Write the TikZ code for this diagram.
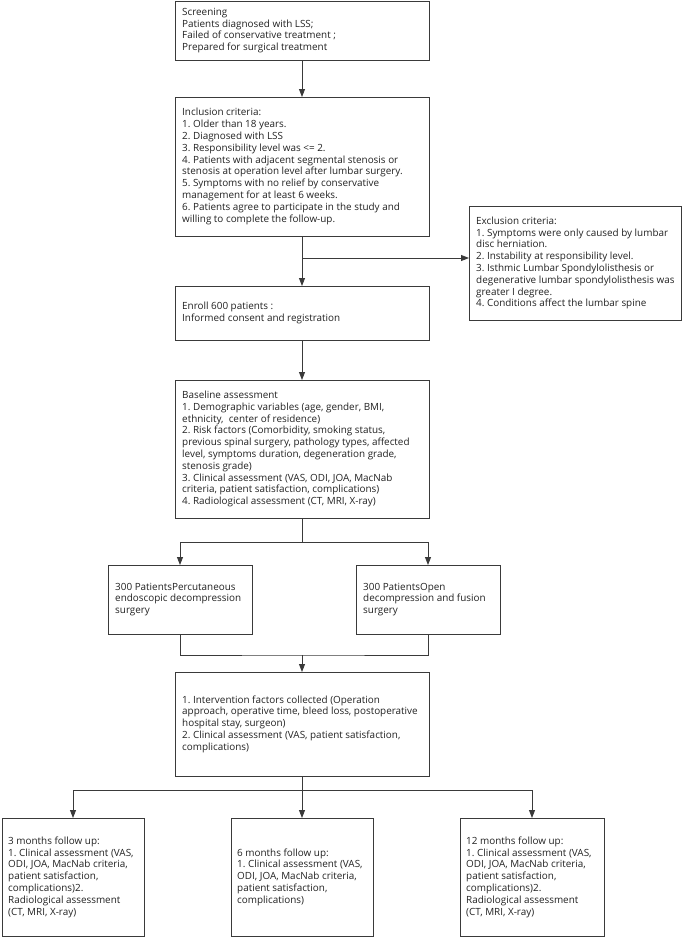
\documentclass[tikz,border=0pt]{standalone}
\usepackage{fontspec}
\setmainfont{Open Sans}
\usetikzlibrary{arrows.meta}
\definecolor{ln}{HTML}{3A3A3A}
\definecolor{tx}{HTML}{222222}
\tikzset{
  frame/.style={draw=ln, line width=0.9pt, rectangle, anchor=north west,
    inner sep=0pt, outer sep=0pt},
  txt/.style={anchor=west, align=left, inner sep=0pt, text=tx,
    font=\fontsize{9.9}{11.8}\selectfont\frenchspacing},
  arr/.style={draw=ln, line width=0.9pt, -{Triangle[length=8pt,width=6pt]}},
  ln/.style={draw=ln, line width=0.9pt}
}
% name, x, y, width, height, padding, text
\newcommand{\bx}[7]{\node[frame, minimum width=#4pt, minimum height=#5pt] (#1) at (#2,#3) {};
  \node[txt] (#1t) at ([xshift=#6pt]#1.west) {#7};}
\begin{document}
\begin{tikzpicture}[x=1pt,y=-1pt]
\useasboundingbox (0,0) rectangle (685,937);
\bx{scr}{175}{1}{254}{59}{7}{Screening\\Patients diagnosed with LSS;\\Failed of conservative treatment ;\\Prepared for surgical treatment}
\bx{inc}{175}{97}{254}{139}{7}{Inclusion criteria:\\1. Older than 18 years.\\2. Diagnosed with LSS\\3. Responsibility level was <= 2.\\4. Patients with adjacent segmental stenosis or\\stenosis at operation level after lumbar surgery.\\5. Symptoms with no relief by conservative\\management for at least 6 weeks.\\6. Patients agree to participate in the study and\\willing to complete the follow-up.}
\bx{exc}{469}{206}{212}{114}{7}{Exclusion criteria:\\1. Symptoms were only caused by lumbar\\disc herniation.\\2. Instability at responsibility level.\\3. Isthmic Lumbar Spondylolisthesis or\\degenerative lumbar spondylolisthesis was\\greater I degree.\\4. Conditions affect the lumbar spine}
\bx{enr}{175}{286}{254}{54}{7}{Enroll 600 patients :\\Informed consent and registration}
\bx{base}{175}{380}{254}{138}{7}{Baseline assessment\\1. Demographic variables (age, gender, BMI,\\ethnicity,\ \ center of residence)\\2. Risk factors (Comorbidity, smoking status,\\previous spinal surgery, pathology types, affected\\level, symptoms duration, degeneration grade,\\stenosis grade)\\3. Clinical assessment (VAS, ODI, JOA, MacNab\\criteria, patient satisfaction, complications)\\4. Radiological assessment (CT, MRI, X-ray)}
\bx{p1}{108}{565}{144}{69}{7}{300 PatientsPercutaneous\\endoscopic decompression\\surgery}
\bx{p2}{356}{565}{144}{69}{7}{300 PatientsOpen\\decompression and fusion\\surgery}
\bx{intv}{175}{672}{254}{104}{7}{1. Intervention factors collected (Operation\\approach, operative time, bleed loss, postoperative\\hospital stay, surgeon)\\2. Clinical assessment (VAS, patient satisfaction,\\complications)}
\bx{f3}{2}{818}{142}{118}{6}{3 months follow up:\\1. Clinical assessment (VAS,\\ODI, JOA, MacNab criteria,\\patient satisfaction,\\complications)2.\\Radiological assessment\\(CT, MRI, X-ray)}
\bx{f6}{231}{818}{142}{118}{6}{6 months follow up:\\1. Clinical assessment (VAS,\\ODI, JOA, MacNab criteria,\\patient satisfaction,\\complications)}
\bx{f12}{460}{818}{144}{118}{6}{12 months follow up:\\1. Clinical assessment (VAS,\\ODI, JOA, MacNab criteria,\\patient satisfaction,\\complications)2.\\Radiological assessment\\(CT, MRI, X-ray)}
% connectors
\draw[arr] (scr.south) -- (inc.north);
\draw[arr] (inc.south) -- (enr.north);
\coordinate (j1) at ([yshift=-22pt]inc.south);
\draw[arr] (j1) -- (j1 -| exc.west);
\draw[arr] (enr.south) -- (base.north);
\coordinate (j2) at ([yshift=-24pt]base.south);
\draw[ln] (base.south) -- (j2);
\draw[arr] (j2) -| (p1.north);
\draw[arr] (j2) -| (p2.north);
\coordinate (m) at (302,655);
\draw[ln] (p1.south) |- (m) -| (p2.south);
\draw[arr] (m) -- (intv.north);
\coordinate (j3) at ([yshift=-14pt]intv.south);
\draw[arr] (intv.south) -- (f6.north);
\draw[arr] (j3) -| (f3.north);
\draw[arr] (j3) -| (f12.north);
\end{tikzpicture}
\end{document}
